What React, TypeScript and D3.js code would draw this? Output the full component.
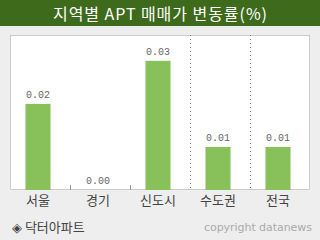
import React from "react";
import * as d3 from "d3";

const categories = ["서울", "경기", "신도시", "수도권", "전국"];
const values = [0.02, 0.0, 0.03, 0.01, 0.01];
const valueLabels = ["0.02", "0.00", "0.03", "0.01", "0.01"];
const title = "지역별 APT 매매가 변동률(%)";
const source = "◈ 닥터아파트";
const copyright = "copyright datanews";

export default function App() {
  const W = 320, H = 240;
  const left = 10, right = 310, top = 35, bottom = 190;
  const x = d3.scaleBand<string>().domain(categories).range([left, right]).paddingInner(0).paddingOuter(0);
  const y = d3.scaleLinear().domain([0, 0.036]).range([bottom, top]);
  const barW = 25;
  const kr = "'Noto Sans CJK KR', sans-serif";
  return (
    <svg width={W} height={H} style={{ position: "absolute", left: 0, top: 0 }}>
      <rect x={0} y={0} width={W} height={H} fill="#eeeeee" />
      <rect x={0} y={0} width={W} height={26} fill="#3e6a1c" />
      <text x={160} y={20} textAnchor="middle" fill="#ffffff" fontFamily={kr} fontSize={16} textLength={214} lengthAdjust="spacing">{title}</text>
      <rect x={left + 0.5} y={top + 0.5} width={right - left - 1} height={bottom - top - 1} fill="#ffffff" stroke="#cccccc" strokeWidth={1} />
      {[1, 2].map((i) => {
        const xx = Math.round(x(categories[i])!) + 0.5;
        return <line key={"t" + i} x1={xx} x2={xx} y1={bottom - 5} y2={bottom} stroke="#999" />;
      })}
      {[3, 4].map((i) => {
        const xx = Math.round(x(categories[i])!) + 0.5;
        return <line key={"d" + i} x1={xx} x2={xx} y1={top} y2={bottom} stroke="#777" strokeDasharray="1,3" />;
      })}
      {categories.map((c, i) => {
        const cx = x(c)! + x.bandwidth() / 2;
        const yt = y(values[i]);
        return (
          <g key={c}>
            {values[i] > 0 && <rect x={cx - barW / 2 - 2} y={yt} width={barW} height={bottom - yt} fill="#88c05a" />}
            <text x={cx - 2} y={yt - 6} textAnchor="middle" fontFamily="'Liberation Mono', monospace" fontSize={10} fill="#666">{valueLabels[i]}</text>
            <text x={cx - 2} y={205} textAnchor="middle" fontFamily={kr} fontSize={13} fill="#444">{c}</text>
          </g>
        );
      })}
      <text x={12} y={232} fontFamily={kr} fontSize={13} fill="#444">{source}</text>
      <text x={312} y={231} textAnchor="end" fontFamily="'DejaVu Sans', sans-serif" fontSize={11} fill="#aaaaaa" textLength={108} lengthAdjust="spacing">{copyright}</text>
    </svg>
  );
}
